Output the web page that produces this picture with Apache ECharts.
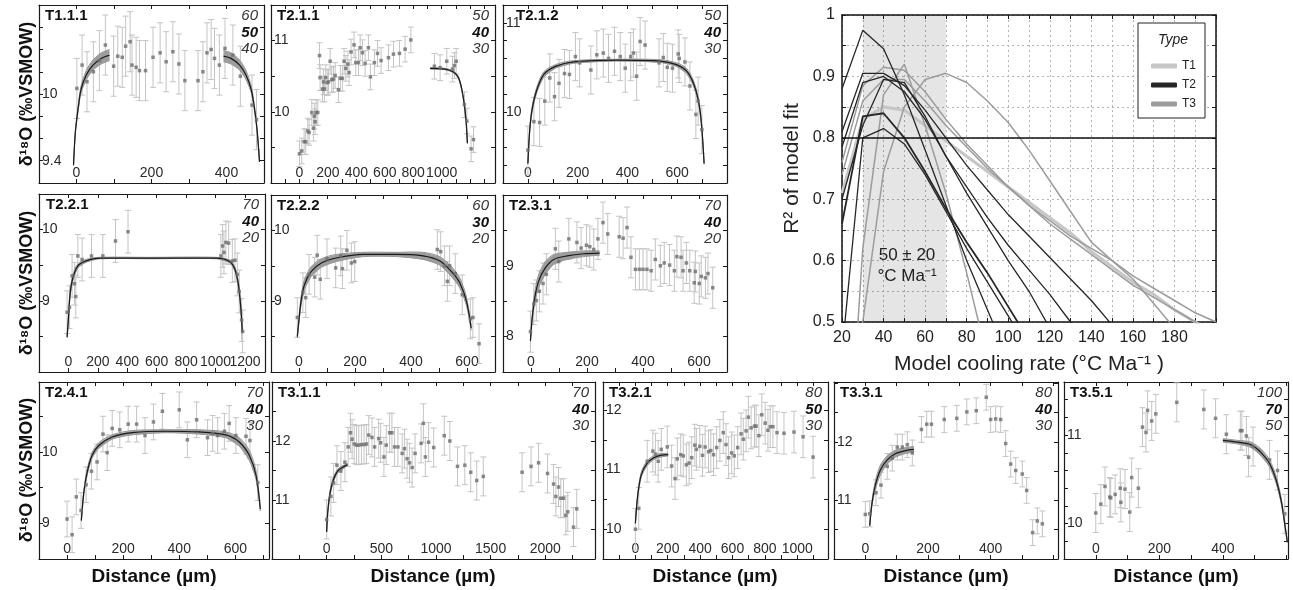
<!DOCTYPE html>
<html><head><meta charset="utf-8">
<script src="https://cdn.jsdelivr.net/npm/echarts@6/dist/echarts.min.js"></script>
<style>html,body{margin:0;padding:0;background:#fff}#c{width:1293px;height:590px}</style>
</head><body><div id="c"></div>
<script>
// ================= DATA =================
// --- T1.1.1 ---
const T111_points = [[1,10.05],[15,10.26],[28,10.11],[45,10.2],[61,10.3],[77,10.44],[99,10.25],[110,10.34],[122,10.33],[131,10.43],[143,10.47],[148,10.26],[159,10.24],[168,10.21],[184,10.21],[204,10.33],[223,10.37],[239,10.29],[257,10.38],[273,10.27],[289,10.12],[324,10.12],[337,10.2],[348,10.37],[359,10.4],[368,10.32],[381,10.26],[396,10.41],[417,10.35],[437,10.16],[468,9.9],[480,9.77]];
const T111_err = 0.27;
const T111_curveL = [[-8,9.36,0],[-3,9.66,0.01],[4,9.86,0.02],[12,10.04,0.03],[26,10.17,0.04],[44,10.26,0.045],[66,10.32,0.05],[88,10.35,0.05]];
const T111_curveR = [[392,10.34,0.05],[412,10.32,0.05],[435,10.26,0.045],[452,10.17,0.04],[466,10.04,0.03],[475,9.86,0.02],[482,9.66,0.01],[488,9.39,0]];
const T111_xLabels = [0,200,400];
const T111_yLabels = [9.4,10];
const T111_models = ['60','50','40'];
// --- T2.1.1 ---
const T211_points = [[0,9.41],[16,9.45],[33,9.58],[44,9.58],[59,9.73],[68,9.71],[87,9.99],[98,9.77],[105,9.94],[110,9.86],[117,9.99],[129,9.99],[141,10.79],[145,10.48],[162,10.32],[169,10.42],[176,10.32],[185,10.48],[195,10.41],[204,10.42],[216,10.71],[227,10.45],[239,10.46],[251,10.51],[274,10.31],[288,10.47],[302,10.47],[314,10.71],[326,10.61],[340,10.67],[349,10.55],[363,10.84],[384,10.94],[396,10.69],[415,10.69],[427,10.9],[443,10.83],[462,10.68],[485,10.9],[499,10.49],[527,10.69],[549,10.82],[574,10.72],[626,10.76],[661,10.81],[703,10.82],[743,10.88],[783,11.01],[949,10.64],[989,10.62],[1036,10.71],[1076,10.6],[1090,10.65],[1102,10.71],[1160,10.1],[1177,9.87],[1207,9.48],[1224,9.61]];
const T211_err = 0.18;
const T211_curve = [[919,10.61,0.01],[1024,10.6,0.01],[1083,10.56,0.012],[1118,10.48,0.015],[1141,10.32,0.015],[1160,10.09,0.015],[1172,9.86,0.01],[1181,9.56,0.01]];
const T211_xLabels = [0,200,400,600,800,1000];
const T211_yLabels = [10,11];
const T211_models = ['50','40','30'];
// --- T2.1.2 ---
const T212_points = [[0,9.57],[24,9.89],[47,9.88],[68,10.12],[88,10.38],[107,10.17],[125,10.32],[147,10.43],[167,10.42],[191,10.62],[208,10.55],[253,10.47],[277,10.64],[303,10.66],[324,10.6],[348,10.68],[371,10.62],[391,10.49],[413,10.62],[424,10.66],[437,10.4],[451,10.79],[471,10.75],[527,10.55],[544,10.61],[560,10.5],[581,10.49],[604,10.65],[608,10.6],[631,10.56],[651,10.29],[675,9.97],[684,10.12],[699,9.8]];
const T212_err = 0.27;
const T212_curve = [[0,9.42,0.01],[7,9.78,0.02],[17,10.03,0.03],[35,10.24,0.03],[64,10.42,0.03],[111,10.51,0.02],[184,10.56,0.015],[357,10.58,0.01],[531,10.57,0.015],[597,10.53,0.02],[637,10.46,0.03],[664,10.33,0.03],[684,10.14,0.03],[697,9.88,0.02],[708,9.42,0.01]];
const T212_xLabels = [0,200,400,600];
const T212_yLabels = [10,11];
const T212_models = ['50','40','30'];
// --- T2.2.1 ---
const T221_points = [[-9,8.84],[7,8.91],[25,9.35],[41,9.24],[50,9.06],[64,9.63],[93,9.58],[157,9.63],[234,9.63],[320,9.84],[405,9.97],[1036,9.63],[1048,9.77],[1057,9.68],[1070,9.82],[1089,9.81],[1114,9.56],[1132,9.57],[1148,9.37],[1161,9.13],[1177,8.73],[1184,8.57]];
const T221_err = 0.3;
const T221_curve = [[-9,8.49,0.01],[0,8.75,0.03],[11,9.09,0.04],[30,9.32,0.04],[64,9.49,0.03],[120,9.56,0.02],[211,9.6,0.01],[552,9.6,0.01],[1007,9.6,0.01],[1098,9.55,0.02],[1132,9.44,0.03],[1155,9.23,0.04],[1170,8.94,0.04],[1182,8.56,0.02]];
const T221_xLabels = [0,200,400,600,800,1000,1200];
const T221_yLabels = [9,10];
const T221_models = ['70','40','20'];
// --- T2.2.2 ---
const T222_points = [[-6,8.77],[14,9.12],[24,9.05],[36,9.38],[56,9.34],[65,9.65],[76,9.31],[100,9.6],[131,9.47],[149,9.64],[155,9.46],[171,9.72],[187,9.54],[199,9.56],[494,9.73],[506,9.7],[520,9.5],[530,9.28],[538,9.5],[558,9.39],[583,9.09],[612,8.75],[621,8.77],[643,8.4]];
const T222_err = 0.28;
const T222_curve = [[-6,8.5,0.02],[0,8.74,0.04],[8,9.02,0.06],[20,9.24,0.07],[44,9.42,0.07],[80,9.54,0.06],[133,9.61,0.05],[229,9.66,0.03],[348,9.66,0.03],[443,9.64,0.05],[502,9.57,0.06],[544,9.42,0.07],[574,9.26,0.07],[598,9.0,0.06],[615,8.62,0.03]];
const T222_xLabels = [0,200,400,600];
const T222_yLabels = [9,10];
const T222_models = ['60','30','20'];
// --- T2.3.1 ---
const T231_points = [[-2,8.07],[10,8.46],[19,8.51],[30,8.64],[43,8.75],[55,8.88],[87,9.24],[99,9.06],[135,9.38],[164,9.33],[179,9.25],[198,9.29],[210,9.27],[224,9.23],[239,9.38],[257,9.61],[274,9.45],[315,9.41],[329,9.39],[343,9.54],[357,9.12],[373,8.95],[387,8.95],[400,8.95],[414,8.95],[429,8.93],[444,9.09],[462,9.0],[476,9.04],[495,9.01],[512,8.93],[521,9.13],[536,9.12],[543,8.93],[555,9.04],[567,8.93],[583,8.76],[587,8.92],[601,8.75],[608,8.85],[623,8.83],[632,8.89],[649,8.69]];
const T231_err = 0.29;
const T231_curve = [[-2,7.94,0.01],[4,8.25,0.04],[13,8.54,0.07],[27,8.78,0.09],[51,8.97,0.09],[81,9.09,0.07],[129,9.14,0.05],[188,9.17,0.04],[245,9.18,0.03]];
const T231_xLabels = [0,200,400,600];
const T231_yLabels = [8,9];
const T231_models = ['70','40','20'];
// --- T2.4.1 ---
const T241_points = [[0,9.06],[18,8.84],[33,9.37],[50,9.18],[68,9.54],[87,9.73],[107,9.86],[128,10.25],[143,9.99],[161,10.33],[188,10.31],[218,10.39],[248,10.39],[278,10.23],[308,10.42],[340,10.57],[400,10.59],[429,10.17],[462,10.45],[501,10.2],[519,10.26],[537,10.23],[561,10.29],[578,10.4],[602,10.23],[638,10.22],[652,10.16],[680,9.57]];
const T241_err = 0.25;
const T241_curve = [[51,9.04,0.01],[60,9.44,0.03],[72,9.72,0.04],[89,9.95,0.04],[113,10.09,0.04],[161,10.21,0.03],[233,10.27,0.03],[352,10.29,0.02],[471,10.28,0.03],[566,10.24,0.04],[614,10.14,0.06],[650,9.95,0.07],[674,9.67,0.06],[689,9.2,0.03]];
const T241_xLabels = [0,200,400,600];
const T241_yLabels = [9,10];
const T241_models = ['70','40','30'];
// --- T3.1.1 ---
const T311_points = [[0,10.67],[39,11.06],[64,11.29],[94,11.59],[130,11.49],[167,11.64],[197,11.9],[218,12.14],[233,12.03],[252,11.95],[273,11.93],[294,11.93],[318,11.94],[342,11.94],[364,11.95],[385,12.1],[415,12.06],[439,11.9],[476,12.04],[494,11.97],[524,11.73],[545,11.93],[576,12.14],[597,12.14],[621,11.9],[652,11.9],[691,11.79],[712,11.87],[736,11.7],[758,11.63],[782,11.55],[809,11.79],[864,11.96],[885,12.3],[903,11.73],[933,11.98],[979,11.89],[1076,12.09],[1127,12.0],[1197,11.57],[1264,11.59],[1318,11.47],[1373,11.33],[1433,11.4],[1788,11.47],[1870,11.57],[1939,11.63],[2021,11.45],[2076,11.27],[2097,11.06],[2121,11.22],[2142,11.03],[2167,11.03],[2188,10.74],[2206,10.8],[2258,10.54],[2288,10.85]];
const T311_err = 0.33;
const T311_curve = [[0,10.46,0.01],[9,10.77,0.03],[30,11.11,0.04],[61,11.34,0.04],[100,11.49,0.03],[142,11.55,0.03],[191,11.6,0.02]];
const T311_xLabels = [0,500,1000,1500,2000];
const T311_yLabels = [11,12];
const T311_models = ['70','40','30'];
// --- T3.2.1 ---
const T321_points = [[0,10.0],[21,10.35],[73,11.14],[108,11.31],[124,11.26],[141,11.14],[160,11.34],[197,11.38],[224,11.06],[245,10.85],[259,11.18],[280,11.25],[296,11.23],[315,11.08],[332,11.11],[348,11.2],[367,11.41],[377,11.34],[398,11.39],[415,11.24],[431,11.38],[452,11.3],[466,11.32],[483,11.25],[502,11.37],[522,11.49],[543,11.62],[560,11.42],[576,11.2],[595,11.28],[611,11.23],[632,11.37],[653,11.6],[667,11.51],[684,11.65],[698,11.88],[715,11.7],[736,11.73],[746,11.73],[763,11.57],[781,11.92],[802,11.78],[819,11.66],[833,11.72],[850,11.72],[875,11.62],[918,11.61],[980,11.63],[1036,11.55],[1098,11.21]];
const T321_err = 0.35;
const T321_curve = [[0,10.1,0.01],[15,10.58,0.03],[37,10.92,0.04],[73,11.11,0.04],[114,11.2,0.03],[155,11.24,0.03],[203,11.25,0.02]];
const T321_xLabels = [0,200,400,600,800,1000];
const T321_yLabels = [10,11,12];
const T321_models = ['80','50','30'];
// --- T3.3.1 ---
const T331_points = [[0,10.76],[14,10.77],[34,11.13],[50,11.26],[70,11.58],[86,11.72],[102,11.91],[118,11.91],[134,11.95],[150,11.81],[179,12.21],[196,12.3],[211,12.3],[252,12.38],[292,12.4],[324,12.51],[354,12.53],[386,12.76],[400,12.38],[416,12.39],[432,12.38],[448,11.97],[464,11.62],[480,11.51],[501,11.45],[515,11.17],[534,10.45],[549,10.65],[565,10.6]];
const T331_err = 0.22;
const T331_curve = [[14,10.57,0.01],[21,10.94,0.04],[32,11.26,0.07],[48,11.52,0.08],[70,11.69,0.07],[97,11.8,0.06],[129,11.85,0.05],[155,11.87,0.05]];
const T331_xLabels = [0,200,400];
const T331_yLabels = [11,12];
const T331_models = ['80','40','30'];
// --- T3.5.1 ---
const T351_points = [[0,10.12],[16,10.22],[29,10.42],[44,10.3],[47,10.29],[61,10.33],[77,10.4],[79,10.24],[92,10.39],[107,10.13],[113,10.52],[134,10.4],[147,11.09],[158,11.03],[163,11.28],[176,11.16],[189,11.24],[255,11.37],[340,11.29],[377,11.19],[411,11.01],[455,11.05],[460,11.05],[474,10.99],[481,10.75],[495,10.87],[547,10.72],[572,10.6],[595,10.11]];
const T351_err = 0.22;
const T351_curve = [[400,10.94,0.02],[447,10.92,0.02],[489,10.89,0.03],[521,10.8,0.04],[547,10.68,0.04],[568,10.49,0.04],[584,10.25,0.03],[597,9.94,0.02],[603,9.79,0.01]];
const T351_xLabels = [0,200,400];
const T351_yLabels = [10,11];
const T351_models = ['100','70','50'];

// --- R2 vs model cooling rate ---
const coolingRates = [20,30,40,50,60,70,80,90,100,110,120,130,140,150,160,170,180,190,200];
const r2_T1 = [0.71,0.83,0.85,0.845,0.82,0.795,0.77,0.745,0.72,0.695,0.67,0.645,0.615,0.59,0.565,0.545,0.52,0.5,0.48];
const r2_T2a = [0.88,0.975,0.945,0.87,0.78,0.69,0.6,0.52,0.44];
const r2_T2b = [0.81,0.905,0.905,0.885,0.845,0.8,0.755,0.715,0.675,0.64,0.605,0.57,0.535,0.495,0.46];
const r2_T2c = [0.785,0.89,0.9,0.875,0.83,0.77,0.72,0.67,0.625,0.585,0.545,0.5,0.46];
const r2_T2d = [0.66,0.835,0.84,0.8,0.745,0.685,0.63,0.58,0.525,0.47];
const r2_T2e = [0.45,0.8,0.815,0.79,0.74,0.68,0.62,0.565,0.51,0.455];
const r2_T2f = [0.7,0.82,0.895,0.89,0.835,0.77,0.71,0.655,0.6,0.55,0.49];
const r2_T3a = [0.76,0.885,0.915,0.91,0.875,0.83,0.79,0.755,0.72,0.69,0.66,0.635,0.61,0.585,0.56,0.54,0.52,0.5,0.48];
const r2_T3b = [0.1,0.62,0.87,0.92,0.82,0.71,0.58,0.44];
const r2_T3c = [0.2,0.5,0.745,0.85,0.895,0.905,0.89,0.86,0.825,0.78,0.73,0.68,0.63,0.6,0.57,0.53,0.49];
const r2_T3d = [0.74,0.86,0.895,0.895,0.86,0.82,0.785,0.75,0.72,0.69,0.665,0.64,0.62,0.6,0.575,0.555,0.535,0.515,0.5];
const shadeRange = [30, 70];
const thresholdR2 = 0.8;
const rateLabels = [20,40,60,80,100,120,140,160,180];
const r2Labels = [0.5,0.6,0.7,0.8,0.9,1];

// ================= LAYOUT / STYLE =================
const FONT = '"Liberation Sans", Arial, Helvetica, sans-serif';
const panels = [
  {name:'T1.1.1', box:[39,5,264,183], xr:[-100,500,100], yr:[9.2,10.8,0.2], xl:T111_xLabels, yl:T111_yLabels, pts:T111_points, err:T111_err, curves:[T111_curveL,T111_curveR], models:T111_models, ldx:6},
  {name:'T2.1.1', box:[271,5,495,183], xr:[-200,1375,100], yr:[9.0,11.5,0.5], xl:T211_xLabels, yl:T211_yLabels, pts:T211_points, err:T211_err, curves:[T211_curve], models:T211_models, ldx:6},
  {name:'T2.1.2', box:[503,5,727,183], xr:[-100,800,100], yr:[9.2,11.2,0.2], xl:T212_xLabels, yl:T212_yLabels, pts:T212_points, err:T212_err, curves:[T212_curve], models:T212_models, ldx:13},
  {name:'T2.2.1', box:[39,194,265,372], xr:[-200,1336,200], yr:[8,10.5,0.5], xl:T221_xLabels, yl:T221_yLabels, pts:T221_points, err:T221_err, curves:[T221_curve], models:T221_models, ldx:7},
  {name:'T2.2.2', box:[271,195,495,372], xr:[-100,700,100], yr:[8,10.5,0.5], xl:T222_xLabels, yl:T222_yLabels, pts:T222_points, err:T222_err, curves:[T222_curve], models:T222_models, ldx:6},
  {name:'T2.3.1', box:[503,195,727,372], xr:[-100,700,100], yr:[7.5,10,0.5], xl:T231_xLabels, yl:T231_yLabels, pts:T231_points, err:T231_err, curves:[T231_curve], models:T231_models, ldx:6},
  {name:'T2.4.1', box:[39,382,269,559], xr:[-100,720,100], yr:[8.5,10.98,0.5], xl:T241_xLabels, yl:T241_yLabels, pts:T241_points, err:T241_err, curves:[T241_curve], models:T241_models, ldx:6},
  {name:'T3.1.1', box:[272,382,595,559], xr:[-500,2455,250], yr:[10,13,0.5], xl:T311_xLabels, yl:T311_yLabels, pts:T311_points, err:T311_err, curves:[T311_curve], models:T311_models, ldx:6},
  {name:'T3.2.1', box:[603,382,828,559], xr:[-200,1190,100], yr:[9.5,12.47,0.5], xl:T321_xLabels, yl:T321_yLabels, pts:T321_points, err:T321_err, curves:[T321_curve], models:T321_models, ldx:6},
  {name:'T3.3.1', box:[834,382,1058,559], xr:[-100,615,100], yr:[10,13.02,0.5], xl:T331_xLabels, yl:T331_yLabels, pts:T331_points, err:T331_err, curves:[T331_curve], models:T331_models, ldx:6},
  {name:'T3.5.1', box:[1064,382,1288,559], xr:[-100,605,100], yr:[9.6,11.6,0.2], xl:T351_xLabels, yl:T351_yLabels, pts:T351_points, err:T351_err, curves:[T351_curve], models:T351_models, ldx:6}
];

const option = {animation:false, backgroundColor:'#fff', grid:[], xAxis:[], yAxis:[], series:[], graphic:[],
  legend:{data:['T1','T2','T3'], orient:'vertical', left:1138, top:23, padding:[37,9,8,13], itemWidth:26, itemHeight:5, itemGap:7,
    icon:'roundRect', borderColor:'#222', borderWidth:1, backgroundColor:'#fff', selectedMode:false,
    textStyle:{fontSize:12, color:'#222', fontFamily:FONT}}
};
const onlyLabels = list => v => list.some(q => Math.abs(q - v) < 1e-6) ? String(+v.toFixed(3)) : '';
const AX = {show:true, onZero:false, lineStyle:{color:'#1a1a1a', width:1.2}};
const AXB = {show:true, onZero:false, lineStyle:{color:'#111', width:1.5}};
const TK = {show:true, inside:true, length:4, lineStyle:{color:'#1a1a1a', width:1}};

function errRender(params, api){
  const x = api.value(0), y = api.value(1), e = api.value(2);
  const a = api.coord([x, y + e]), b = api.coord([x, y - e]);
  const c = 3, st = {stroke:'#c4c4c4', lineWidth:1};
  return {type:'group', children:[
    {type:'line', shape:{x1:a[0], y1:a[1], x2:b[0], y2:b[1]}, style:st},
    {type:'line', shape:{x1:a[0]-c, y1:a[1], x2:a[0]+c, y2:a[1]}, style:st},
    {type:'line', shape:{x1:b[0]-c, y1:b[1], x2:b[0]+c, y2:b[1]}, style:st}
  ]};
}
function bandRender(cv){
  return function(params, api){
    const up = cv.map(c => api.coord([c[0], c[1] + c[2]]));
    const lo = cv.map(c => api.coord([c[0], c[1] - c[2]])).reverse();
    return {type:'group', children:[
      {type:'polyline', shape:{points:up, smooth:0.3}, style:{stroke:'#8e8e8e', lineWidth:1, fill:null}},
      {type:'polyline', shape:{points:lo, smooth:0.3}, style:{stroke:'#8e8e8e', lineWidth:1, fill:null}},
      {type:'polygon', shape:{points:up.concat(lo)}, style:{fill:'#9c9c9c', stroke:null}}
    ]};
  };
}

panels.forEach((p, i) => {
  const [l, t, r, b] = p.box;
  option.grid.push({left:l, top:t, width:r - l, height:b - t, show:false});
  const xi = option.xAxis.length, yi = option.yAxis.length;
  option.xAxis.push({type:'value', gridIndex:i, min:p.xr[0], max:p.xr[1], interval:p.xr[2], position:'bottom',
    axisLine:AX, axisTick:TK, splitLine:{show:false},
    axisLabel:{inside:true, margin:3, fontSize:14, color:'#2a2a2a', fontFamily:FONT, formatter:onlyLabels(p.xl), showMinLabel:true, showMaxLabel:true}});
  option.xAxis.push({type:'value', gridIndex:i, min:p.xr[0], max:p.xr[1], interval:p.xr[2], position:'top',
    axisLine:AX, axisTick:TK, splitLine:{show:false}, axisLabel:{show:false}});
  option.yAxis.push({type:'value', gridIndex:i, min:p.yr[0], max:p.yr[1], interval:p.yr[2], position:'left',
    axisLine:AX, axisTick:TK, splitLine:{show:false},
    axisLabel:{inside:true, margin:3, fontSize:14, color:'#2a2a2a', fontFamily:FONT, formatter:onlyLabels(p.yl)}});
  option.yAxis.push({type:'value', gridIndex:i, min:p.yr[0], max:p.yr[1], interval:p.yr[2], position:'right',
    axisLine:AX, axisTick:TK, splitLine:{show:false}, axisLabel:{show:false}});

  // error bars
  option.series.push({type:'custom', xAxisIndex:xi, yAxisIndex:yi, clip:true, silent:true,
    data:p.pts.map(q => [q[0], q[1], p.err]), renderItem:errRender, z:2});
  // model band + curve
  p.curves.forEach(cv => {
    option.series.push({type:'custom', xAxisIndex:xi, yAxisIndex:yi, clip:true, silent:true,
      data:[[cv[0][0], cv[0][1]]], renderItem:bandRender(cv), z:3});
    option.series.push({type:'line', xAxisIndex:xi, yAxisIndex:yi, symbol:'none', smooth:0.3, silent:true,
      lineStyle:{color:'#1a1a1a', width:1.2}, data:cv.map(c => [c[0], c[1]]), z:4});
  });
  // points
  option.series.push({type:'scatter', xAxisIndex:xi, yAxisIndex:yi, symbol:'rect', symbolSize:3.5, silent:true,
    itemStyle:{color:'#6e6e6e'}, data:p.pts.map(q => [q[0], q[1]]), z:5});

  // panel label
  option.graphic.push({type:'text', x:l + p.ldx, y:t + 11, z:50, silent:true,
    style:{text:p.name, font:'bold 15px ' + FONT, fill:'#111', align:'left', verticalAlign:'middle'}});
  // model rates
  option.graphic.push({type:'text', x:r - 6, y:t + 3, z:50, silent:true,
    style:{text:'{n|' + p.models[0] + '}\n{b|' + p.models[1] + '}\n{n|' + p.models[2] + '}', align:'right', verticalAlign:'top',
      rich:{n:{fontStyle:'italic', fontSize:15, lineHeight:16.5, fontFamily:FONT, fill:'#333', align:'right'},
            b:{fontStyle:'italic', fontWeight:'bold', fontSize:15, lineHeight:16.5, fontFamily:FONT, fill:'#111', align:'right'}}}});
});

// row y-labels and distance labels
[94, 283, 470].forEach(cy => option.graphic.push({type:'text', x:27, y:cy, rotation:Math.PI / 2, z:50, silent:true,
  style:{text:'δ¹⁸O (‰VSMOW)', font:'bold 18px ' + FONT, fill:'#111', align:'center', verticalAlign:'middle'}}));
[154, 433, 715, 946, 1176].forEach(cx => option.graphic.push({type:'text', x:cx, y:577, z:50, silent:true,
  style:{text:'Distance (µm)', font:'bold 19px ' + FONT, fill:'#111', align:'center', verticalAlign:'middle'}}));

// ================= R2 PANEL =================
const gi = option.grid.length;
option.grid.push({left:842, top:15, width:374, height:307, show:false});
const bx = option.xAxis.length, by = option.yAxis.length;
const DOT = {show:true, lineStyle:{color:'#b4b4b4', type:[2,3], width:1}};
option.xAxis.push({type:'value', gridIndex:gi, min:20, max:200, interval:10, position:'bottom',
  name:'Model cooling rate (°C Ma⁻¹ )', nameLocation:'middle', nameGap:32,
  nameTextStyle:{fontSize:21, color:'#222', fontFamily:FONT},
  axisLine:AXB, axisTick:TK, splitLine:DOT,
  axisLabel:{margin:8, fontSize:16, color:'#222', fontFamily:FONT, formatter:onlyLabels(rateLabels), showMaxLabel:true}});
option.xAxis.push({type:'value', gridIndex:gi, min:20, max:200, interval:10, position:'top',
  axisLine:AXB, axisTick:TK, splitLine:{show:false}, axisLabel:{show:false}});
option.yAxis.push({type:'value', gridIndex:gi, min:0.5, max:1, interval:0.05, position:'left',
  name:'R² of model fit', nameLocation:'middle', nameGap:39,
  nameTextStyle:{fontSize:21, color:'#222', fontFamily:FONT},
  axisLine:AXB, axisTick:TK, splitLine:DOT,
  axisLabel:{margin:7, fontSize:16, color:'#222', fontFamily:FONT, formatter:onlyLabels(r2Labels)}});
option.yAxis.push({type:'value', gridIndex:gi, min:0.5, max:1, interval:0.05, position:'right',
  axisLine:AXB, axisTick:TK, splitLine:{show:false}, axisLabel:{show:false}});

const TYPE_COL = {T1:'#c6c6c6', T2:'#262626', T3:'#9c9c9c'};
const r2Lines = [
  ['T3', r2_T3a, 1.5], ['T3', r2_T3b, 1.5], ['T3', r2_T3c, 1.5], ['T3', r2_T3d, 1.5],
  ['T2', r2_T2a, 1.3], ['T2', r2_T2b, 1.3], ['T2', r2_T2c, 1.3], ['T2', r2_T2d, 1.8], ['T2', r2_T2e, 1.3], ['T2', r2_T2f, 1.3],
  ['T1', r2_T1, 3]
];
option.series.push({type:'line', name:'shade', xAxisIndex:bx, yAxisIndex:by, data:[], silent:true,
  markArea:{silent:true, itemStyle:{color:'rgba(0,0,0,0.1)'}, data:[[{xAxis:shadeRange[0]}, {xAxis:shadeRange[1]}]]},
  markLine:{silent:true, symbol:'none', label:{show:false}, lineStyle:{color:'#111', width:1.6, type:'solid'}, data:[{yAxis:thresholdR2}]}});
r2Lines.forEach(([ty, vals, w]) => {
  option.series.push({type:'line', name:ty, xAxisIndex:bx, yAxisIndex:by, symbol:'none', silent:true, clip:true,
    color:TYPE_COL[ty], lineStyle:{color:TYPE_COL[ty], width:w},
    data:vals.map((v, j) => [coolingRates[j], v]), z:ty === 'T1' ? 3 : 4});
});
option.graphic.push({type:'text', x:1173, y:40, z:60, silent:true,
  style:{text:'Type', font:'italic 14px ' + FONT, fill:'#222', align:'center', verticalAlign:'middle'}});
option.graphic.push({type:'text', x:907, y:255, z:60, silent:true,
  style:{text:'50 ± 20', font:'17px ' + FONT, fill:'#222', align:'center', verticalAlign:'middle'}});
option.graphic.push({type:'text', x:907, y:276, z:60, silent:true,
  style:{text:'°C Ma⁻¹', font:'17px ' + FONT, fill:'#222', align:'center', verticalAlign:'middle'}});

const chart = echarts.init(document.getElementById('c'), null, {renderer:'canvas'});
chart.setOption(option);
</script></body></html>
